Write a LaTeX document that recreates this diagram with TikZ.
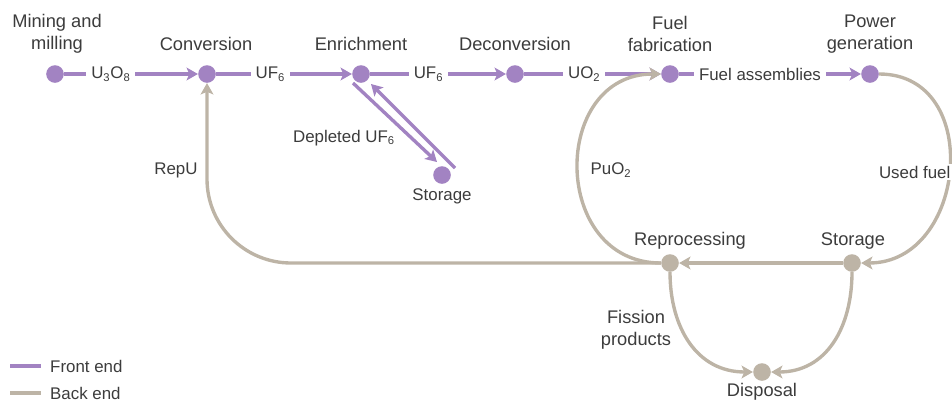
\documentclass[tikz,border=0pt]{standalone}
\usepackage{fontspec}
\setmainfont{Liberation Sans}
\usetikzlibrary{arrows.meta}
\definecolor{frontend}{HTML}{A283C2}
\definecolor{backend}{HTML}{BDB4A6}
\definecolor{labelgrey}{HTML}{3C3C3C}

\begin{document}
\begin{tikzpicture}[x=0.025cm,y=-0.025cm,
    stage/.style={circle, inner sep=0pt, minimum size=0.44cm},
    front/.style={draw=frontend, line width=2.4pt},
    back/.style={draw=backend, line width=2.4pt},
    tip/.style={-{Stealth[length=8pt,width=9pt,inset=1.8pt]}},
    stage label/.style={text=labelgrey, font=\fontsize{13}{15.5}\selectfont, align=center, inner sep=1pt},
    flow label/.style={text=labelgrey, font=\fontsize{12}{14}\selectfont, fill=white, inner xsep=3.5pt, inner ysep=1pt}]

\useasboundingbox (0,0) rectangle (952,403);

% front end
\node[stage, fill=frontend] (mining) at (55,74) {};
\node[stage, fill=frontend] (conv) at (207,74) {};
\node[stage, fill=frontend] (enrich) at (361,74) {};
\node[stage, fill=frontend] (deconv) at (515,74) {};
\node[stage, fill=frontend] (fab) at (670,74) {};
\node[stage, fill=frontend] (power) at (870,74) {};
\node[stage, fill=frontend] (tails) at (442,175) {};

% back end
\node[stage, fill=backend] (repro) at (670,263) {};
\node[stage, fill=backend] (store) at (852,263) {};
\node[stage, fill=backend] (disp) at (762,372) {};

\node[stage label] (mininglbl) at (57,34) {Mining and\\milling};
\node[stage label] (convlbl) at (206,44) {Conversion};
\node[stage label] (enrichlbl) at (361,44) {Enrichment};
\node[stage label] (deconvlbl) at (515,44) {Deconversion};
\node[stage label] (fablbl) at (670,34) {Fuel\\fabrication};
\node[stage label] (powerlbl) at (870,34) {Power\\generation};
\node[stage label, font=\fontsize{12}{14}\selectfont] (tailslbl) at (442,196) {Storage};
\node[stage label] (reprolbl) at (690,241) {Reprocessing};
\node[stage label] (storelbl) at (853,241) {Storage};
\node[stage label] (displbl) at (762,392) {Disposal};

\draw[front,tip] (mining) -- node[flow label, pos=0.35] {U\textsubscript{3}O\textsubscript{8}} (conv);
\draw[front,tip] (conv) -- node[flow label, pos=0.40] {UF\textsubscript{6}} (enrich);
\draw[front,tip] (enrich) -- node[flow label, pos=0.43] {UF\textsubscript{6}} (deconv);
\draw[front,tip] (deconv) -- node[flow label, pos=0.44] {UO\textsubscript{2}} (fab);
\draw[front,tip] (fab) -- node[flow label, pos=0.445] {Fuel assemblies} (power);

\draw[front,tip] ([shift={(-8,9)}]enrich.center) -- ([shift={(-5,-13)}]tails.center);
\draw[front,tip] ([shift={(13,-7)}]tails.center) -- ([shift={(10,10)}]enrich.center);
\node[flow label, fill=none] (depllbl) at (344,138) {Depleted UF\textsubscript{6}};

\draw[back,tip,rounded corners=2.1cm] (repro) -| (conv);
\draw[back,tip] (repro) to[out=180,in=180,looseness=1.5] (fab);
\draw[back,tip] (power) to[out=0,in=0,looseness=1.42] (store);
\draw[back,tip] (store) -- (repro);
\draw[back,tip] (repro) to[out=-90,in=180,looseness=1.1] (disp);
\draw[back,tip] (store) to[out=-90,in=0,looseness=1.1] (disp);

\node[flow label, fill=none] (repulbl) at (176,170) {RepU};
\node[flow label, fill=none] (pulbl) at (611,170) {PuO\textsubscript{2}};
\node[flow label, anchor=east, inner xsep=1pt] (usedlbl) at (952,172) {Used fuel};
\node[stage label] (fisslbl) at (636,330) {Fission\\products};

% key
\node[flow label, anchor=west, fill=none] (frontkey) at (45,366) {Front end};
\node[flow label, anchor=west, fill=none] (backkey) at (45,393) {Back end};
\draw[front] (frontkey.west) ++(-35,0) -- ++(31,0);
\draw[back] (backkey.west) ++(-35,0) -- ++(31,0);
\end{tikzpicture}
\end{document}
